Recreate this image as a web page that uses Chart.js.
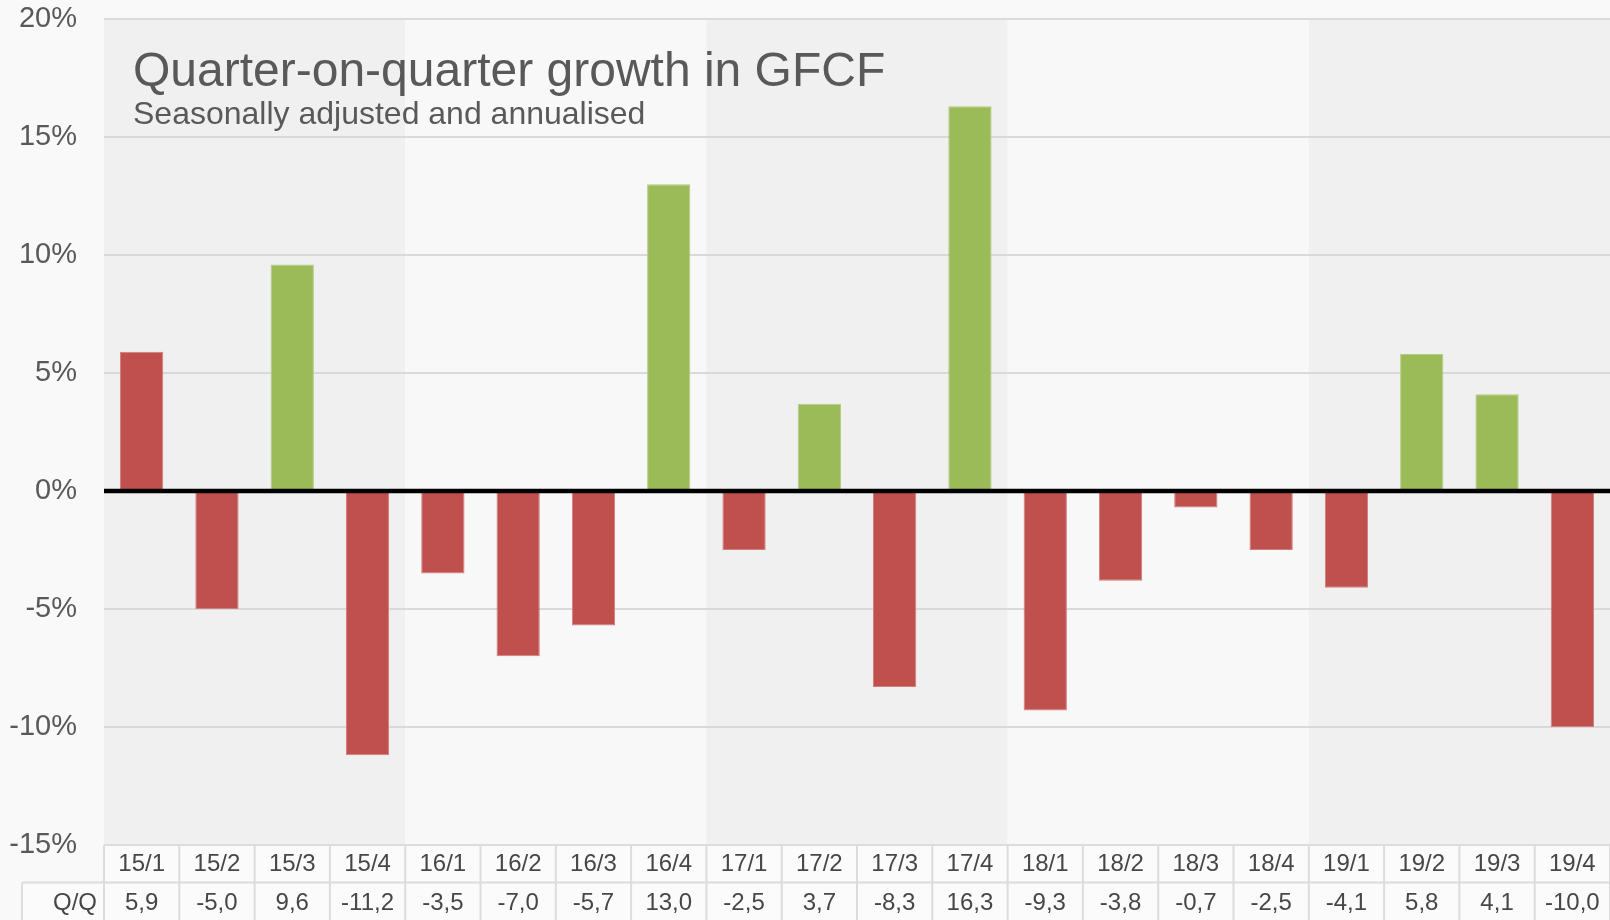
<!DOCTYPE html>
<html>
<head>
<meta charset="utf-8">
<title>Quarter-on-quarter growth in GFCF</title>
<script src="https://cdn.jsdelivr.net/npm/chart.js@4.4.0/dist/chart.umd.min.js"></script>
<style>
    body { margin: 0; background: #f9f9f9; }
    #wrap { width: 1610px; height: 920px; }
</style>
</head>
<body>
<div id="wrap"><canvas id="myChart" width="1610" height="920"></canvas></div>
<script>
// data
var quarters = ['15/1','15/2','15/3','15/4','16/1','16/2','16/3','16/4','17/1','17/2',
                '17/3','17/4','18/1','18/2','18/3','18/4','19/1','19/2','19/3','19/4'];
var growth = [5.9, -5.0, 9.6, -11.2, -3.5, -7.0, -5.7, 13.0, -2.5, 3.7,
              -8.3, 16.3, -9.3, -3.8, -0.7, -2.5, -4.1, 5.8, 4.1, -10.0];
var greenQuarters = ['15/3','16/4','17/2','17/4','19/2','19/3'];
var yTicks = [-15, -10, -5, 0, 5, 10, 15, 20];
var rowLabel = 'Q/Q';
var titleText = 'Quarter-on-quarter growth in GFCF';
var subtitleText = 'Seasonally adjusted and annualised';

var font = "'Liberation Sans', Arial, sans-serif";
var red = '#c0504d', green = '#9bbb59';

var fills = [], edges = [];
for (var i in quarters) {
    var isGreen = greenQuarters.indexOf(quarters[i]) >= 0;
    fills.push(isGreen ? green : red);
    edges.push(isGreen ? '#b4cc84' : '#d27e7b');
}

function yearOf(q) { return q.split('/')[0]; }

var backdrop = {
    id: 'backdrop',
    beforeDraw: function (chart) {
        var c = chart.ctx, area = chart.chartArea, x = chart.scales.x;
        c.save();
        c.fillStyle = '#f9f9f9';
        c.fillRect(0, 0, chart.width, chart.height);
        var step = x.getPixelForValue(1) - x.getPixelForValue(0);
        var start = 0, band = 0;
        for (var i = 1; i <= quarters.length; i++) {
            if (i == quarters.length || yearOf(quarters[i]) != yearOf(quarters[start])) {
                var x0 = x.getPixelForValue(start) - step / 2;
                var x1 = x.getPixelForValue(i - 1) + step / 2;
                c.fillStyle = band % 2 == 0 ? '#f0f0f0' : '#f8f8f8';
                c.fillRect(x0, area.top, x1 - x0, area.bottom - area.top);
                band++;
                start = i;
            }
        }
        c.restore();
    },
    afterDatasetsDraw: function (chart) {
        var c = chart.ctx, area = chart.chartArea;
        var y0 = chart.scales.y.getPixelForValue(0);
        c.save();
        c.strokeStyle = '#000';
        c.lineWidth = 4.5;
        c.beginPath();
        c.moveTo(area.left, y0);
        c.lineTo(area.right, y0);
        c.stroke();

        // title
        c.fillStyle = '#595959';
        c.textAlign = 'left';
        c.textBaseline = 'alphabetic';
        c.font = '48px ' + font;
        c.fillText(titleText, 133, 86);
        c.font = '32px ' + font;
        c.fillText(subtitleText, 133, 124);
        c.restore();
    },
    afterDraw: function (chart) {
        var c = chart.ctx, area = chart.chartArea, x = chart.scales.x;
        var step = x.getPixelForValue(1) - x.getPixelForValue(0);
        var top = area.bottom, mid = top + 37.5, bottom = chart.height + 2;
        c.save();
        c.fillStyle = '#fbfbfb';
        c.fillRect(area.left, top, area.right - area.left, bottom - top);
        c.fillRect(22, mid, area.left - 22, bottom - mid);
        c.strokeStyle = '#dcdcdc';
        c.lineWidth = 2;
        c.beginPath();
        c.moveTo(area.left, top); c.lineTo(area.right, top);
        c.moveTo(22, mid); c.lineTo(area.right, mid);
        c.moveTo(22, mid); c.lineTo(22, bottom);
        for (var i = 0; i <= quarters.length; i++) {
            var bx = x.getPixelForValue(0) - step / 2 + i * step;
            c.moveTo(bx, top); c.lineTo(bx, bottom);
        }
        c.stroke();

        c.fillStyle = '#474747';
        c.font = '24px ' + font;
        c.textBaseline = 'middle';
        c.textAlign = 'center';
        for (var j in quarters) {
            var cx = x.getPixelForValue(Number(j));
            c.fillText(quarters[j], cx, top + 19);
            c.fillText(growth[j].toFixed(1).replace('.', ','), cx, mid + 21);
        }
        c.textAlign = 'right';
        c.fillText(rowLabel, area.left - 7, mid + 21);
        c.restore();
    }
};

var ctx = document.getElementById('myChart');
var myChart = new Chart(ctx, {
    type: 'bar',
    data: {
        labels: quarters,
        datasets: [{
            label: 'Q/Q',
            data: growth,
            backgroundColor: fills,
            borderColor: edges,
            borderWidth: 1,
            borderSkipped: false,
            barPercentage: 0.575,
            categoryPercentage: 1
        }]
    },
    options: {
        responsive: false,
        animation: false,
        layout: { padding: { top: 19, right: 0, bottom: 75, left: 0 } },
        plugins: {
            legend: { display: false },
            tooltip: { enabled: false }
        },
        scales: {
            x: { display: false },
            y: {
                min: -15,
                max: 20,
                afterBuildTicks: function (scale) {
                    scale.ticks = yTicks.map(function (v) { return { value: v }; });
                },
                afterFit: function (scale) {
                    scale.width = 104;
                    scale.paddingTop = 0;
                    scale.paddingBottom = 0;
                },
                border: { display: false },
                grid: {
                    drawTicks: false,
                    color: function (c) { return c.tick && c.tick.value === 0 ? 'rgba(0,0,0,0)' : '#d9d9d9'; },
                    lineWidth: 2
                },
                ticks: {
                    padding: 27,
                    color: '#595959',
                    font: { family: font, size: 29 },
                    callback: function (v) { return v + '%'; }
                }
            }
        }
    },
    plugins: [backdrop]
});
</script>
</body>
</html>
